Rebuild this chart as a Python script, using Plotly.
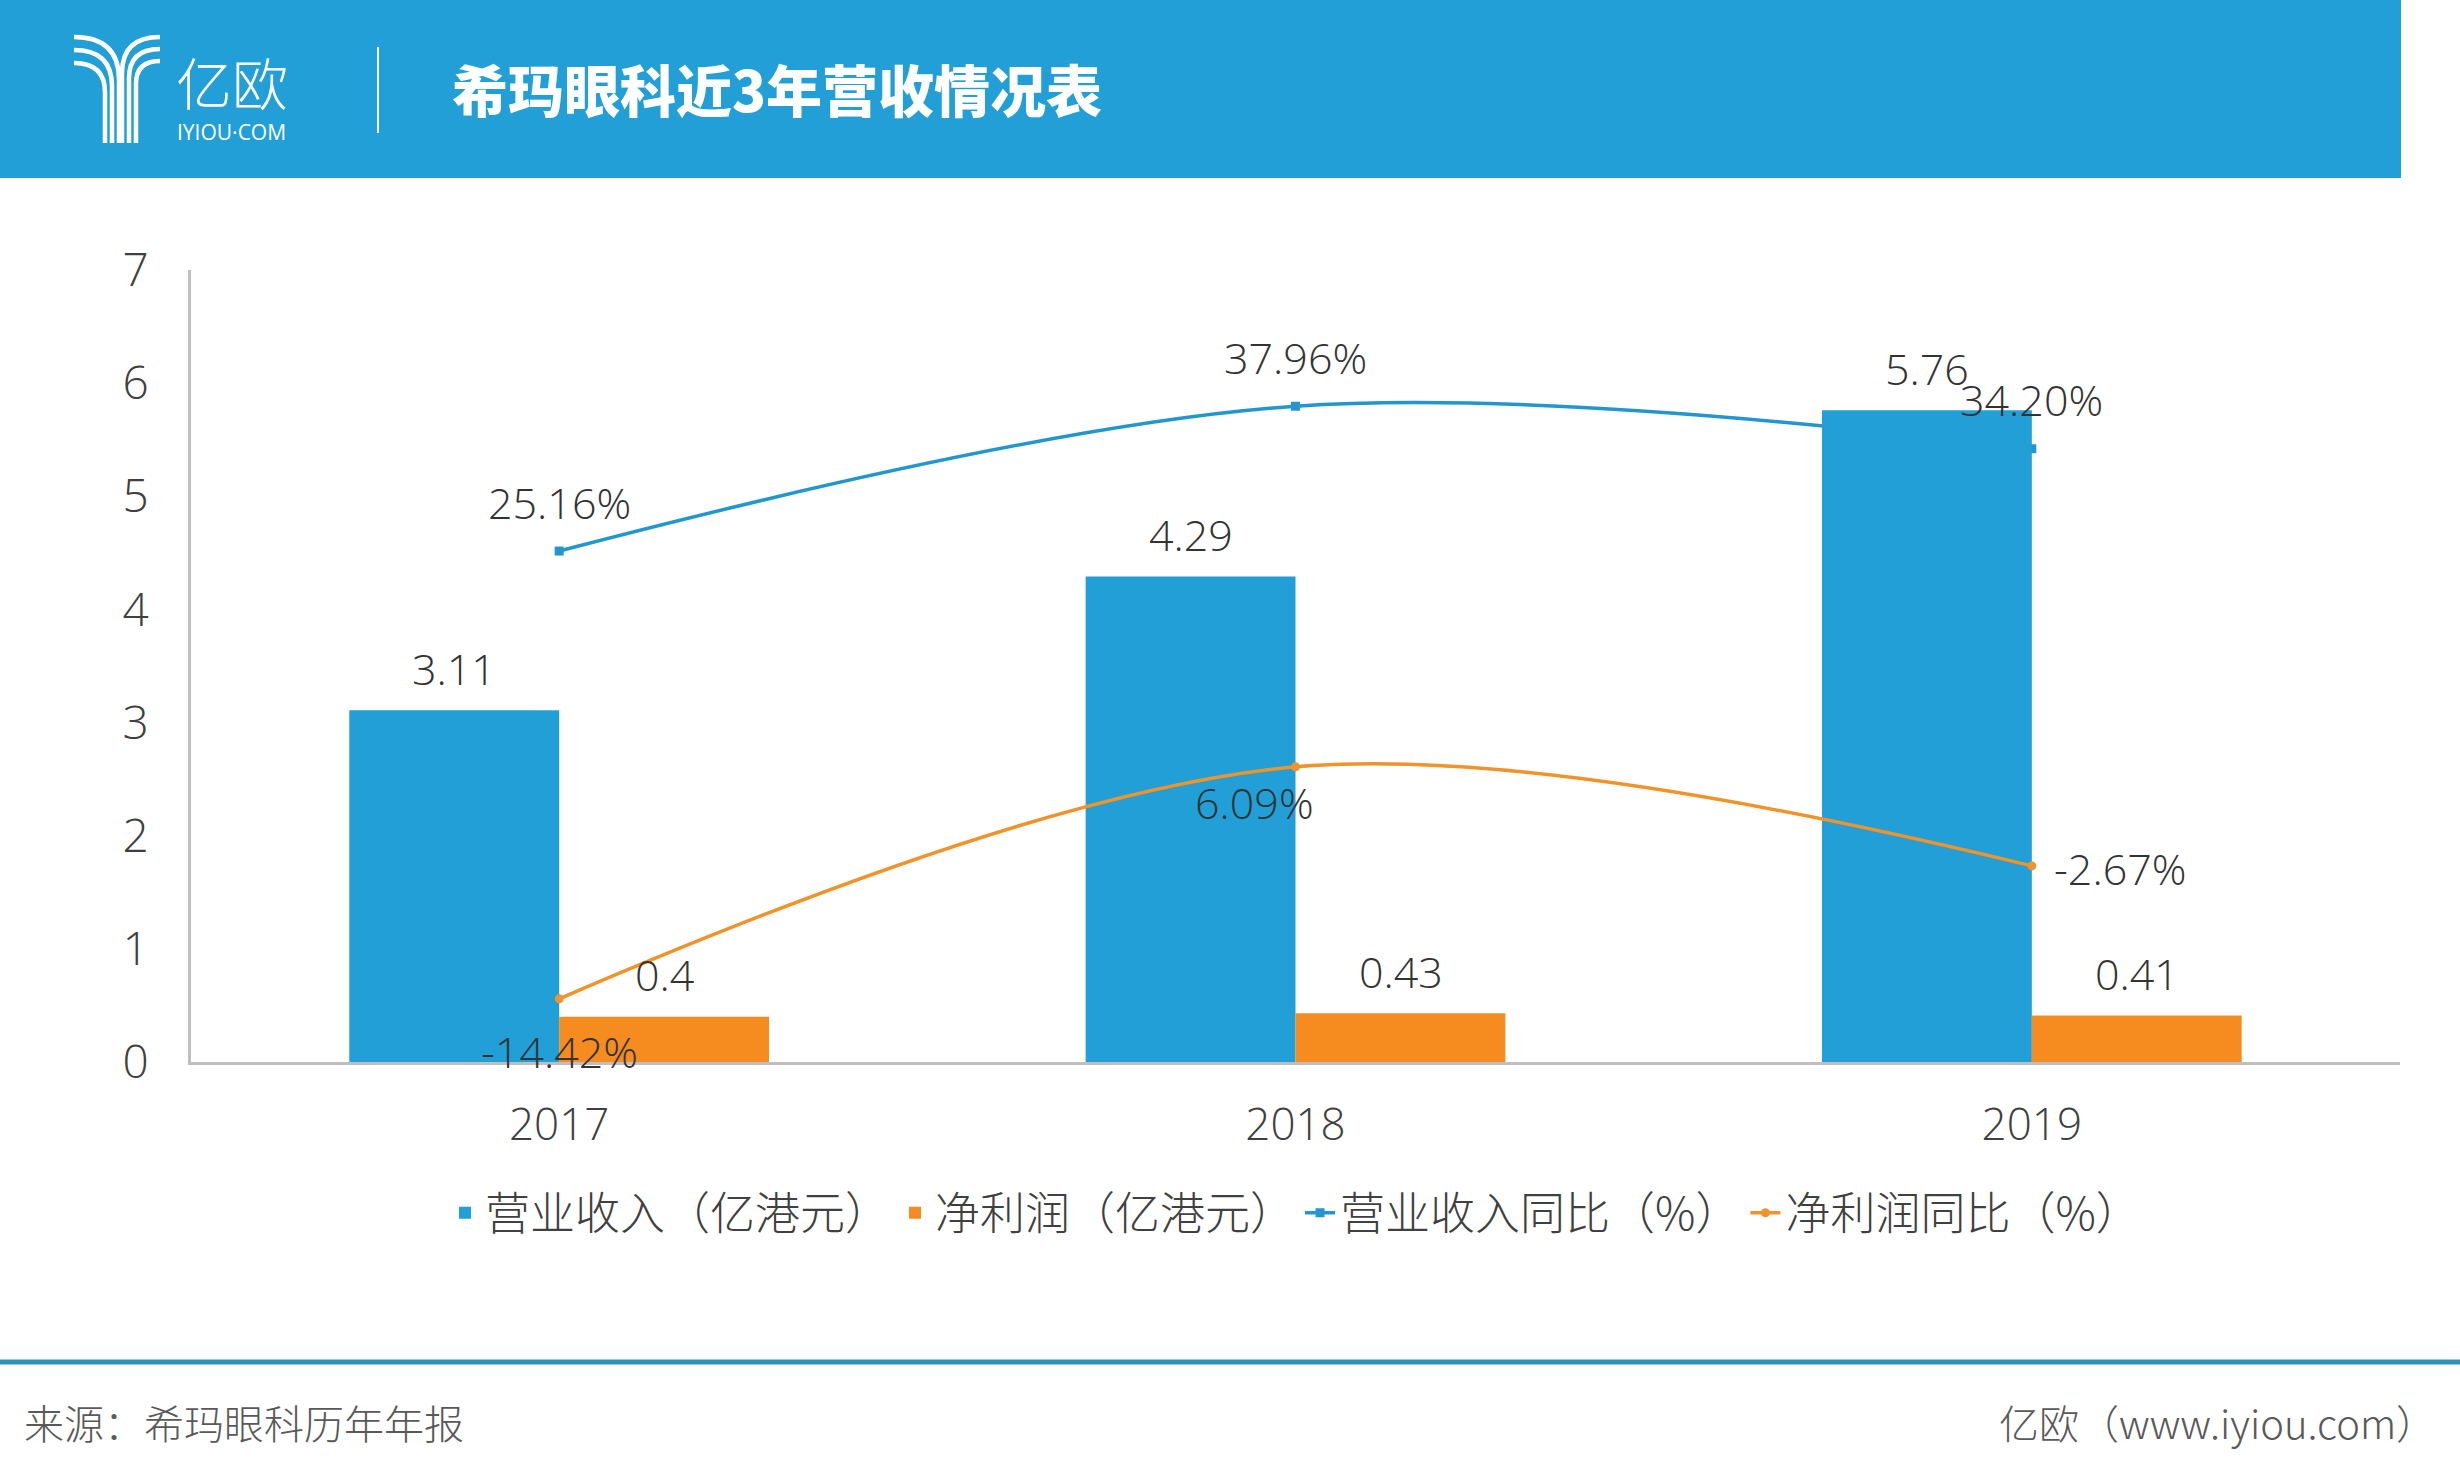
import plotly.graph_objects as go

# ---------------- data ----------------
years = ["2017", "2018", "2019"]
revenue = [3.11, 4.29, 5.76]          # 营业收入（亿港元）
net_profit = [0.4, 0.43, 0.41]        # 净利润（亿港元）
revenue_yoy = [25.16, 37.96, 34.20]   # 营业收入同比（%）
profit_yoy = [-14.42, 6.09, -2.67]    # 净利润同比（%）
y_ticks = [0, 1, 2, 3, 4, 5, 6, 7]

names = ["营业收入（亿港元）", "净利润（亿港元）", "营业收入同比（%）", "净利润同比（%）"]
title_text = "希玛眼科近3年营收情况表"
source_text = "来源：希玛眼科历年年报"
brand_text = "亿欧（www.iyiou.com）"

# ---------------- style ----------------
W, H = 2460, 1480
ML, MR, MT, MB = 191, 60, 270, 418
PW, PH = W - ML - MR, H - MT - MB

BLUE = "#219FD6"
ORANGE = "#F68B1F"
LINE_BLUE = "#2196CF"
LINE_ORANGE = "#F0932B"
TEXT = "#404040"
NUM_FONT = "Open Sans"
CJK_FONT = "Noto Sans CJK SC"

xpos = list(range(len(years)))


def px(x):
    return (x - ML) / PW


def py(y):
    return (H - MB - y) / PH


fig = go.Figure()

# blue line on the main (bottom-most) subplot so bars cover it
fig.add_trace(go.Scatter(
    x=xpos, y=revenue_yoy, name=names[2], mode="lines+markers",
    line=dict(color=LINE_BLUE, width=3.5, shape="spline"),
    marker=dict(symbol="square", size=9, color=LINE_BLUE),
    xaxis="x", yaxis="y", legendrank=3,
))
fig.add_trace(go.Bar(
    x=xpos, y=revenue, name=names[0], marker=dict(color=BLUE, line=dict(width=0)),
    xaxis="x", yaxis="y2", legendrank=1,
))
fig.add_trace(go.Bar(
    x=xpos, y=net_profit, name=names[1], marker=dict(color=ORANGE, line=dict(width=0)),
    xaxis="x", yaxis="y2", legendrank=2,
))
fig.add_trace(go.Scatter(
    x=xpos, y=profit_yoy, name=names[3], mode="lines+markers",
    line=dict(color=LINE_ORANGE, width=3.5, shape="spline"),
    marker=dict(symbol="circle", size=9, color=LINE_ORANGE),
    xaxis="x", yaxis="y3", legendrank=4,
))

annotations = []
label_font = dict(family=NUM_FONT, size=43, color="#333333", weight=300)

# bar value labels
for i in xpos:
    annotations.append(dict(x=i, y=revenue[i], xref="x", yref="y2", text=f"{revenue[i]:g}",
                            showarrow=False, xshift=-105, yshift=42, yanchor="middle",
                            font=dict(label_font)))
    annotations.append(dict(x=i, y=net_profit[i], xref="x", yref="y2", text=f"{net_profit[i]:g}",
                            showarrow=False, xshift=105, yshift=42, yanchor="middle",
                            font=dict(label_font)))

# line value labels
rev_shift = [(0, 49, "center"), (0, 49, "center"), (0, 49, "center")]
prof_shift = [(0, -53, "center"), (-41, -36, "center"), (20, -3, "left")]
for i in xpos:
    dx, dy, anc = rev_shift[i]
    annotations.append(dict(x=i, y=revenue_yoy[i], xref="x", yref="y", text=f"{revenue_yoy[i]:.2f}%",
                            showarrow=False, xshift=dx, yshift=dy, xanchor=anc, yanchor="middle",
                            font=dict(label_font)))
    dx, dy, anc = prof_shift[i]
    annotations.append(dict(x=i, y=profit_yoy[i], xref="x", yref="y3", text=f"{profit_yoy[i]:.2f}%",
                            showarrow=False, xshift=dx, yshift=dy, xanchor=anc, yanchor="middle",
                            font=dict(label_font)))

# header texts
annotations.append(dict(x=px(450), y=py(88), xref="paper", yref="paper", text=title_text,
                        showarrow=False, xanchor="left", yanchor="middle",
                        font=dict(family=CJK_FONT, size=56, color="white", weight=900)))
annotations.append(dict(x=px(174), y=py(80), xref="paper", yref="paper", text="亿欧",
                        showarrow=False, xanchor="left", yanchor="middle",
                        font=dict(family=CJK_FONT, size=56, color="white", weight=300)))
annotations.append(dict(x=px(175), y=py(132), xref="paper", yref="paper", text="IYIOU·COM",
                        showarrow=False, xanchor="left", yanchor="middle",
                        font=dict(family=NUM_FONT, size=21, color="white")))

# footer texts
annotations.append(dict(x=px(22), y=py(1422), xref="paper", yref="paper", text=source_text,
                        showarrow=False, xanchor="left", yanchor="middle",
                        font=dict(family=CJK_FONT, size=40, color="#595959", weight=300)))
annotations.append(dict(x=px(2438), y=py(1422), xref="paper", yref="paper", text=brand_text,
                        showarrow=False, xanchor="right", yanchor="middle",
                        font=dict(family=CJK_FONT, size=40, color="#595959", weight=300)))

shapes = []
# header band
shapes.append(dict(type="rect", xref="paper", yref="paper", x0=px(0), x1=px(2401), y0=py(0), y1=py(178),
                   fillcolor="#219FD6", line=dict(width=0), layer="below"))
# divider
shapes.append(dict(type="line", xref="paper", yref="paper", x0=px(378), x1=px(378), y0=py(47), y1=py(133),
                   line=dict(color="white", width=2)))
# footer rule
shapes.append(dict(type="line", xref="paper", yref="paper", x0=px(0), x1=px(2460), y0=py(1362), y1=py(1362),
                   line=dict(color="#2E93B5", width=5)))


# logo Y mark
def path(points_cmds):
    out = []
    for cmd, pts in points_cmds:
        coords = " ".join(f"{px(x):.5f},{py(y):.5f}" for x, y in pts)
        out.append(f"{cmd} {coords}")
    return " ".join(out)


left_strands = [(37, 119), (50, 112), (63, 105)]
right_strands = [(37, 122), (49, 129), (61, 136)]
for y0, xs in left_strands:
    p = path([("M", [(74, y0)]), ("Q", [(xs, y0), (xs, y0 + (xs - 74) * 0.95)]), ("L", [(xs, 143)])])
    shapes.append(dict(type="path", xref="paper", yref="paper", path=p, line=dict(color="white", width=4.5)))
for y0, xs in right_strands:
    p = path([("M", [(160, y0)]), ("Q", [(xs, y0), (xs, y0 + (160 - xs) * 0.95)]), ("L", [(xs, 143)])])
    shapes.append(dict(type="path", xref="paper", yref="paper", path=p, line=dict(color="white", width=4.5)))

fig.update_layout(
    width=W, height=H,
    margin=dict(l=ML, r=MR, t=MT, b=MB, pad=0),
    paper_bgcolor="white", plot_bgcolor="rgba(0,0,0,0)",
    barmode="group", bargap=0.43, bargroupgap=0,
    showlegend=True,
    legend=dict(orientation="h", x=0.5, xanchor="center", y=py(1213), yanchor="middle",
                font=dict(family=CJK_FONT, size=45, color=TEXT, weight=300),
                itemwidth=30, traceorder="normal", bgcolor="rgba(0,0,0,0)"),
    xaxis=dict(type="linear", range=[-0.5, 2.5], tickvals=xpos, ticktext=years,
               showline=True, linecolor="#BFBFBF", linewidth=3,
               ticks="", showgrid=False, zeroline=False,
               tickfont=dict(family=NUM_FONT, size=44, color=TEXT, weight=300),
               ticklabelstandoff=22),
    yaxis=dict(range=[-20, 50], visible=False, showgrid=False, zeroline=False),
    yaxis2=dict(overlaying="y", side="left", anchor="x", range=[0, 7], tickvals=y_ticks,
                showline=True, linecolor="#BFBFBF", linewidth=3, ticks="", showgrid=False,
                zeroline=False, tickfont=dict(family=NUM_FONT, size=46, color=TEXT, weight=300),
                ticklabelstandoff=30),
    yaxis3=dict(overlaying="y", range=[-20, 50], visible=False, showgrid=False, zeroline=False),
    annotations=annotations,
    shapes=shapes,
)

fig.write_html("out.html")
